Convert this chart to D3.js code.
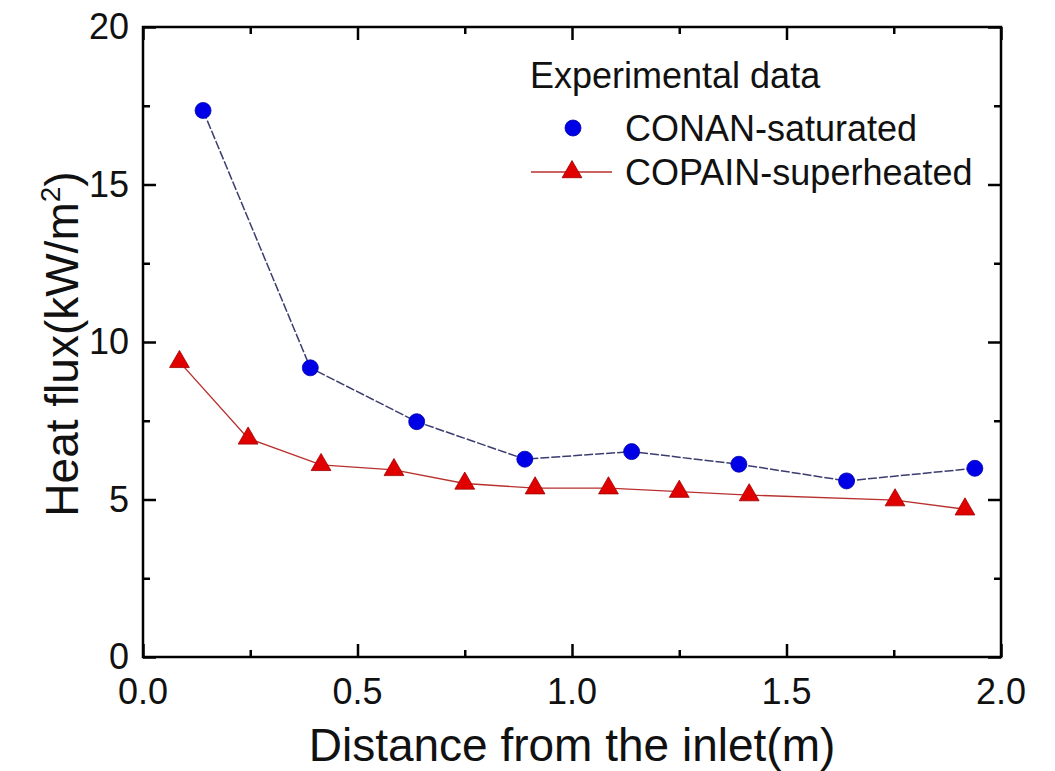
<!DOCTYPE html>
<html>
<head>
<meta charset="utf-8">
<script src="https://cdn.jsdelivr.net/npm/d3@7"></script>
<style>
  body { margin: 0; background: #fff; }
  text { font-family: "Liberation Sans", Arial, sans-serif; fill: #111; }
</style>
</head>
<body>
<div id="chart"></div>
<script>
// data
const conanX = [0.14, 0.39, 0.638, 0.89, 1.139, 1.389, 1.640, 1.939]
const conanY = [17.35, 9.18, 7.47, 6.28, 6.52, 6.12, 5.59, 5.99]
const copainX = [0.085, 0.245, 0.415, 0.585, 0.75, 0.914, 1.085, 1.25, 1.413, 1.753, 1.916]
const copainY = [9.37, 6.94, 6.10, 5.94, 5.51, 5.36, 5.36, 5.25, 5.14, 4.98, 4.69]
const xTicks = [0, 0.5, 1.0, 1.5, 2.0]
const yTicks = [0, 5, 10, 15, 20]
const legendNames = ["CONAN-saturated", "COPAIN-superheated"]

const width = 1055,
    height = 771
const margin = {left: 143, right: 54, top: 27, bottom: 114}

const svg = d3.select("#chart")
  .append("svg")
    .attr("width", width)
    .attr("height", height)

const x = d3.scaleLinear()
  .domain([0, 2])
  .range([margin.left, width - margin.right])

const y = d3.scaleLinear()
  .domain([0, 20])
  .range([height - margin.bottom, margin.top])

const x0 = x(0), x1 = x(2), y0 = y(0), y1 = y(20)

// minor ticks halfway between majors
const xMinor = d3.range(0.25, 2, 0.5)
const yMinor = d3.range(2.5, 20, 5)

function tickAxis(axis, scale, ticks, size, pos){
  const g = svg.append("g")
    .attr("transform", pos)
    .call(axis(scale).tickValues(ticks).tickSize(size).tickFormat(""))
  g.select(".domain").remove()
  g.selectAll("line").attr("stroke", "#000").attr("stroke-width", 2.5)
  return g
}

// inward ticks on all four sides
tickAxis(d3.axisTop, x, xTicks, 13, `translate(0,${y0})`)
tickAxis(d3.axisTop, x, xMinor, 7, `translate(0,${y0})`)
tickAxis(d3.axisBottom, x, xTicks, 13, `translate(0,${y1})`)
tickAxis(d3.axisBottom, x, xMinor, 7, `translate(0,${y1})`)
tickAxis(d3.axisRight, y, yTicks, 13, `translate(${x0},0)`)
tickAxis(d3.axisRight, y, yMinor, 7, `translate(${x0},0)`)
tickAxis(d3.axisLeft, y, yTicks, 13, `translate(${x1},0)`)
tickAxis(d3.axisLeft, y, yMinor, 7, `translate(${x1},0)`)

// frame
svg.append("rect")
  .attr("x", x0).attr("y", y1)
  .attr("width", x1 - x0).attr("height", y0 - y1)
  .attr("fill", "none")
  .attr("stroke", "#000")
  .attr("stroke-width", 2.5)

// tick labels
svg.append("g").selectAll("text")
  .data(xTicks)
  .join("text")
    .attr("x", d => x(d))
    .attr("y", y0 + 47)
    .attr("text-anchor", "middle")
    .style("font-size", "36px")
    .text(d => d3.format(".1f")(d))

svg.append("g").selectAll("text")
  .data(yTicks)
  .join("text")
    .attr("x", x0 - 14)
    .attr("y", d => y(d) + 12)
    .attr("text-anchor", "end")
    .style("font-size", "36px")
    .text(d => d)

// axis titles
svg.append("text")
  .attr("x", (x0 + x1) / 2)
  .attr("y", 761)
  .attr("text-anchor", "middle")
  .style("font-size", "46px")
  .text("Distance from the inlet(m)")

const yTitle = svg.append("text")
  .attr("transform", `translate(78,${(y0 + y1) / 2 + 2}) rotate(-90)`)
  .attr("text-anchor", "middle")
  .style("font-size", "46px")
yTitle.append("tspan").text("Heat flux(kW/m")
yTitle.append("tspan").attr("dy", -18).style("font-size", "28px").text("2")
yTitle.append("tspan").attr("dy", 18).text(")")

// lines
const conan = conanX.map((d, i) => [d, conanY[i]])
const copain = copainX.map((d, i) => [d, copainY[i]])

const line = d3.line()
  .x(d => x(d[0]))
  .y(d => y(d[1]))

svg.append("path")
  .datum(copain)
  .attr("d", line)
  .attr("fill", "none")
  .attr("stroke", "#b8312f")
  .attr("stroke-width", 1.4)

svg.append("path")
  .datum(conan)
  .attr("d", line)
  .attr("fill", "none")
  .attr("stroke", "#3a3d6e")
  .attr("stroke-width", 1.5)
  .attr("stroke-dasharray", "9,2")

const tri = d3.symbol().type(d3.symbolTriangle).size(170)

svg.append("g").selectAll("path")
  .data(copain)
  .join("path")
    .attr("d", tri)
    .attr("transform", d => `translate(${x(d[0])},${y(d[1])})`)
    .attr("fill", "#e00000")
    .attr("stroke", "#a00000")
    .attr("stroke-width", 0.8)

svg.append("g").selectAll("circle")
  .data(conan)
  .join("circle")
    .attr("cx", d => x(d[0]))
    .attr("cy", d => y(d[1]))
    .attr("r", 8)
    .attr("fill", "#0000e6")
    .attr("stroke", "#0000b0")
    .attr("stroke-width", 0.8)

// legend
svg.append("text")
  .attr("x", 530).attr("y", 88)
  .style("font-size", "36px")
  .text("Experimental data")

svg.append("circle")
  .attr("cx", 573).attr("cy", 128)
  .attr("r", 8)
  .attr("fill", "#0000e6")
  .attr("stroke", "#0000b0")
  .attr("stroke-width", 0.8)

svg.append("line")
  .attr("x1", 531).attr("x2", 612)
  .attr("y1", 172).attr("y2", 172)
  .attr("stroke", "#b8312f")
  .attr("stroke-width", 1.4)

svg.append("path")
  .attr("d", tri)
  .attr("transform", "translate(572,172)")
  .attr("fill", "#e00000")
  .attr("stroke", "#a00000")
  .attr("stroke-width", 0.8)

svg.append("g").selectAll("text")
  .data(legendNames)
  .join("text")
    .attr("x", 625)
    .attr("y", (d, i) => 141 + i * 44)
    .style("font-size", "36px")
    .text(d => d)
</script>
</body>
</html>
